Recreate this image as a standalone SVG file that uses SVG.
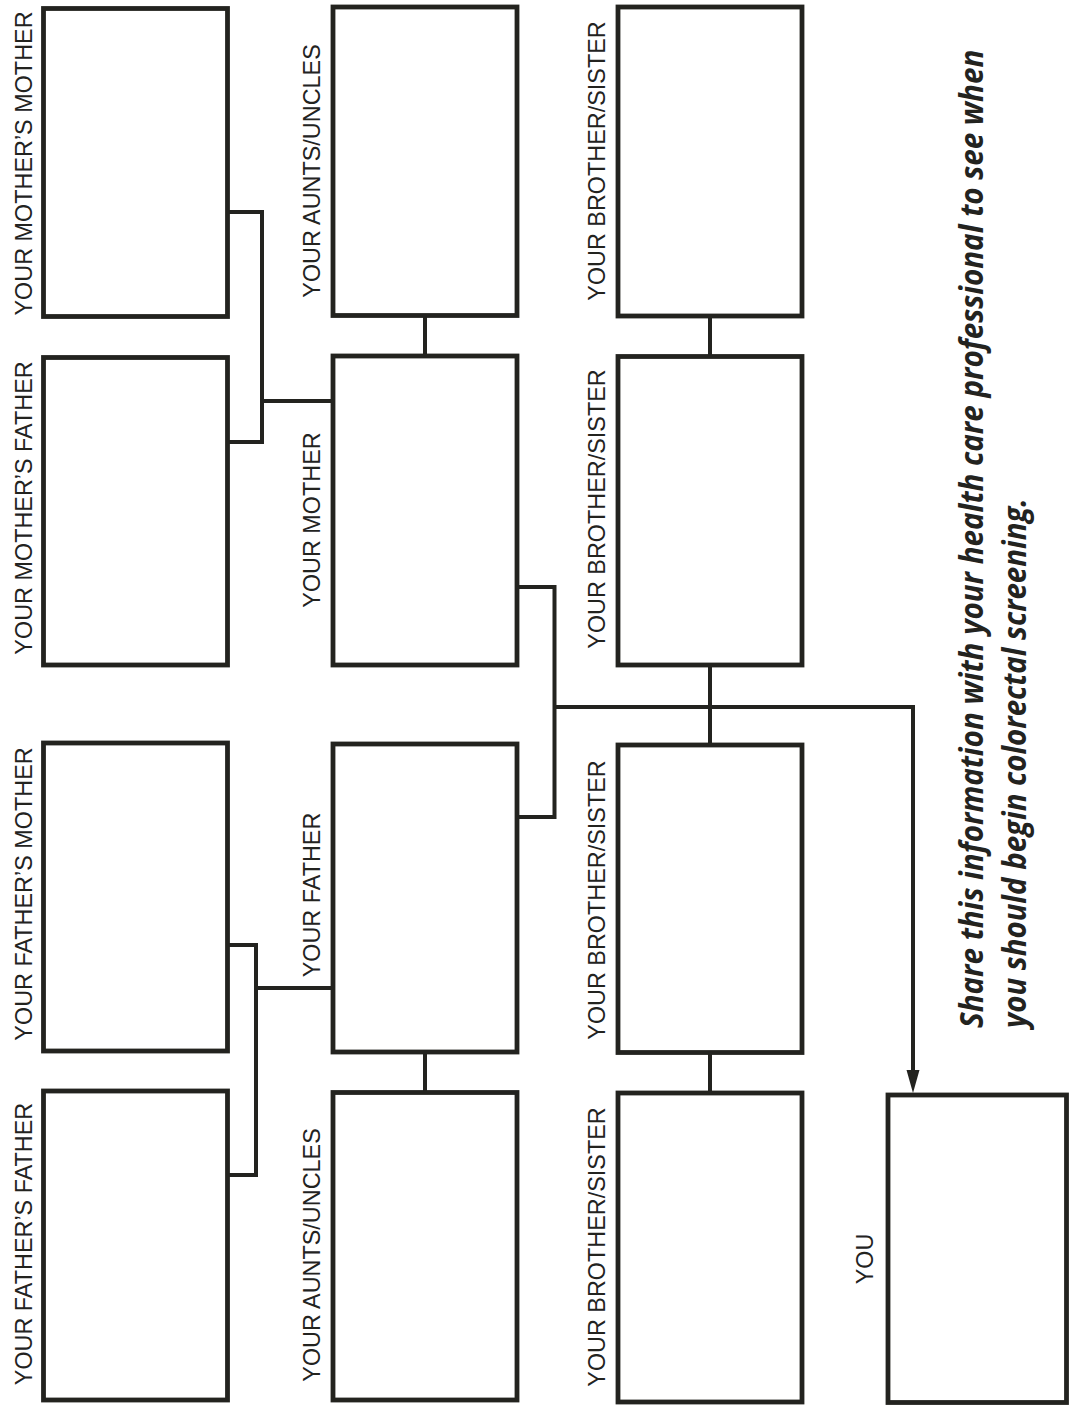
<svg xmlns="http://www.w3.org/2000/svg" width="1069" height="1416" viewBox="0 0 1069 1416">
  <style>
    .box { fill: #ffffff; stroke: #23231f; stroke-width: 4.8; }
    .conn { fill: none; stroke: #23231f; stroke-width: 4; }
    .lbl { font-family: "Liberation Sans", Arial, sans-serif; font-size: 23.4px; fill: #23231f; text-anchor: middle; }
    .note { font-family: "Open Sans", "Lato", sans-serif; font-size: 32px; font-weight: bold; font-style: italic; fill: #23231f; }
  </style>
  <rect width="1069" height="1416" fill="#ffffff"/>

  <g id="connectors">
    <path class="conn" d="M227.5,212 H262 V442 H227.5"/>
    <path class="conn" d="M262,401 H333"/>
    <path class="conn" d="M425,315.5 V356"/>
    <path class="conn" d="M516.5,587 H554.5 V817 H517"/>
    <path class="conn" d="M554.5,707 H913 V1070"/>
    <path d="M906.5,1070 L919.5,1070 L913,1093 Z" fill="#23231f"/>
    <path class="conn" d="M710,316 V356.5"/>
    <path class="conn" d="M710,665 V745"/>
    <path class="conn" d="M710,1052.5 V1093"/>
    <path class="conn" d="M227.5,945 H256 V1175 H227.5"/>
    <path class="conn" d="M256,988 H333"/>
    <path class="conn" d="M425,1052 V1092.5"/>
  </g>

  <g id="mothers-mother">
    <rect class="box" x="43.5" y="8.5" width="184" height="308"/>
    <text class="lbl" transform="translate(31.5,163.5) rotate(-90)">YOUR MOTHER’S MOTHER</text>
  </g>
  <g id="mothers-father">
    <rect class="box" x="43.5" y="357.5" width="184" height="307.5"/>
    <text class="lbl" transform="translate(31.5,508) rotate(-90)">YOUR MOTHER’S FATHER</text>
  </g>
  <g id="fathers-mother">
    <rect class="box" x="43.5" y="743" width="184" height="308"/>
    <text class="lbl" transform="translate(31.5,894) rotate(-90)">YOUR FATHER’S MOTHER</text>
  </g>
  <g id="fathers-father">
    <rect class="box" x="43.5" y="1091" width="184" height="309"/>
    <text class="lbl" transform="translate(31.5,1244) rotate(-90)">YOUR FATHER’S FATHER</text>
  </g>

  <g id="maternal-aunts-uncles">
    <rect class="box" x="333" y="7" width="184" height="308.5"/>
    <text class="lbl" transform="translate(320,171) rotate(-90)">YOUR AUNTS/UNCLES</text>
  </g>
  <g id="mother">
    <rect class="box" x="333" y="356" width="184" height="309"/>
    <text class="lbl" transform="translate(320,520) rotate(-90)">YOUR MOTHER</text>
  </g>
  <g id="father">
    <rect class="box" x="333" y="744" width="184" height="308"/>
    <text class="lbl" transform="translate(320,895) rotate(-90)">YOUR FATHER</text>
  </g>
  <g id="paternal-aunts-uncles">
    <rect class="box" x="333" y="1092.5" width="184" height="307.5"/>
    <text class="lbl" transform="translate(320,1255) rotate(-90)">YOUR AUNTS/UNCLES</text>
  </g>

  <g id="sibling-1">
    <rect class="box" x="618" y="7" width="184" height="309"/>
    <text class="lbl" transform="translate(605,161) rotate(-90)">YOUR BROTHER/SISTER</text>
  </g>
  <g id="sibling-2">
    <rect class="box" x="618" y="356.5" width="184" height="308.5"/>
    <text class="lbl" transform="translate(605,509) rotate(-90)">YOUR BROTHER/SISTER</text>
  </g>
  <g id="sibling-3">
    <rect class="box" x="618" y="745" width="184" height="307.5"/>
    <text class="lbl" transform="translate(605,900) rotate(-90)">YOUR BROTHER/SISTER</text>
  </g>
  <g id="sibling-4">
    <rect class="box" x="618" y="1093" width="184" height="309"/>
    <text class="lbl" transform="translate(605,1247) rotate(-90)">YOUR BROTHER/SISTER</text>
  </g>

  <g id="you">
    <rect class="box" x="888" y="1095" width="178.5" height="307.5"/>
    <text class="lbl" transform="translate(873,1259) rotate(-90)">YOU</text>
  </g>

  <g id="note">
    <text class="note" transform="translate(983,1028) rotate(-90) scale(0.82,1)" textLength="1193" lengthAdjust="spacingAndGlyphs">Share this information with your health care professional to see when</text>
    <text class="note" transform="translate(1026,1028) rotate(-90) scale(0.82,1)" textLength="646" lengthAdjust="spacingAndGlyphs">you should begin colorectal screening.</text>
  </g>
</svg>
